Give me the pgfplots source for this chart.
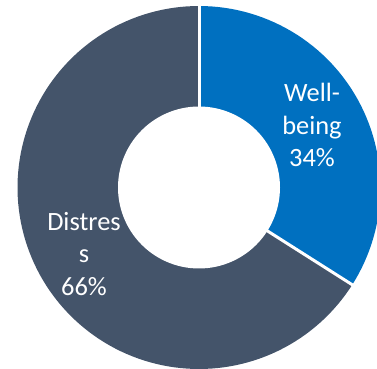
\documentclass[border=0pt]{standalone}
\usepackage{pgfplots}
\pgfplotsset{compat=1.18}
\usepackage{pgfplotstable}
\usepackage{fontspec}
\setmainfont{Carlito}
\definecolor{wbblue}{HTML}{0070C0}
\definecolor{dsgray}{HTML}{44546A}
\pgfplotstableread{
label value
Wellbeing 34
Distress 66
}\donutdata
\begin{document}
\begin{tikzpicture}
\pgfplotstablegetelem{0}{value}\of\donutdata \let\va\pgfplotsretval
\pgfplotstablegetelem{1}{value}\of\donutdata \let\vb\pgfplotsretval
\pgfmathsetmacro{\aS}{90}
\pgfmathsetmacro{\aM}{90-\va*3.6}
\pgfmathsetmacro{\aE}{90-(\va+\vb)*3.6}
\def\Ro{181.5}
\def\Ri{81}
\begin{axis}[
  hide axis, scale only axis,
  x={(1bp,0)}, y={(0,1bp)},
  xmin=-199, xmax=178, ymin=-181.5, ymax=187.5,
  clip=true,
]
\addplot[draw=none] coordinates {(0,0)};
% Well-being wedge
\fill[wbblue] (axis cs:0,0) -- (axis cs:{\Ro*cos(\aS)},{\Ro*sin(\aS)})
  \foreach \t in {0,...,60} { -- (axis cs:{\Ro*cos(\aS+(\aM-\aS)*\t/60)},{\Ro*sin(\aS+(\aM-\aS)*\t/60)}) } -- cycle;
% Distress wedge
\fill[dsgray] (axis cs:0,0) -- (axis cs:{\Ro*cos(\aM)},{\Ro*sin(\aM)})
  \foreach \t in {0,...,120} { -- (axis cs:{\Ro*cos(\aM+(\aE-\aM)*\t/120)},{\Ro*sin(\aM+(\aE-\aM)*\t/120)}) } -- cycle;
% separators
\draw[white, line width=3bp] (axis cs:0,0) -- (axis cs:{(\Ro+5)*cos(\aS)},{(\Ro+5)*sin(\aS)});
\draw[white, line width=3bp] (axis cs:0,0) -- (axis cs:{(\Ro+5)*cos(\aM)},{(\Ro+5)*sin(\aM)});
% hole
\fill[white] (axis cs:0,0) \foreach \t in {0,...,120} { -- (axis cs:{\Ri*cos(3*\t)},{\Ri*sin(3*\t)}) } -- cycle;
\node[white, align=center, font=\fontsize{26.5}{32.5}\selectfont] at (axis cs:113,62.5) {Well-\\being\\34\%};
\node[white, align=center, font=\fontsize{26.5}{32.5}\selectfont] at (axis cs:-115,-66.5) {Distres\\s\\66\%};
\end{axis}
\pgfresetboundingbox
\useasboundingbox (current axis.south west) rectangle (current axis.north east);
\end{tikzpicture}
\end{document}
